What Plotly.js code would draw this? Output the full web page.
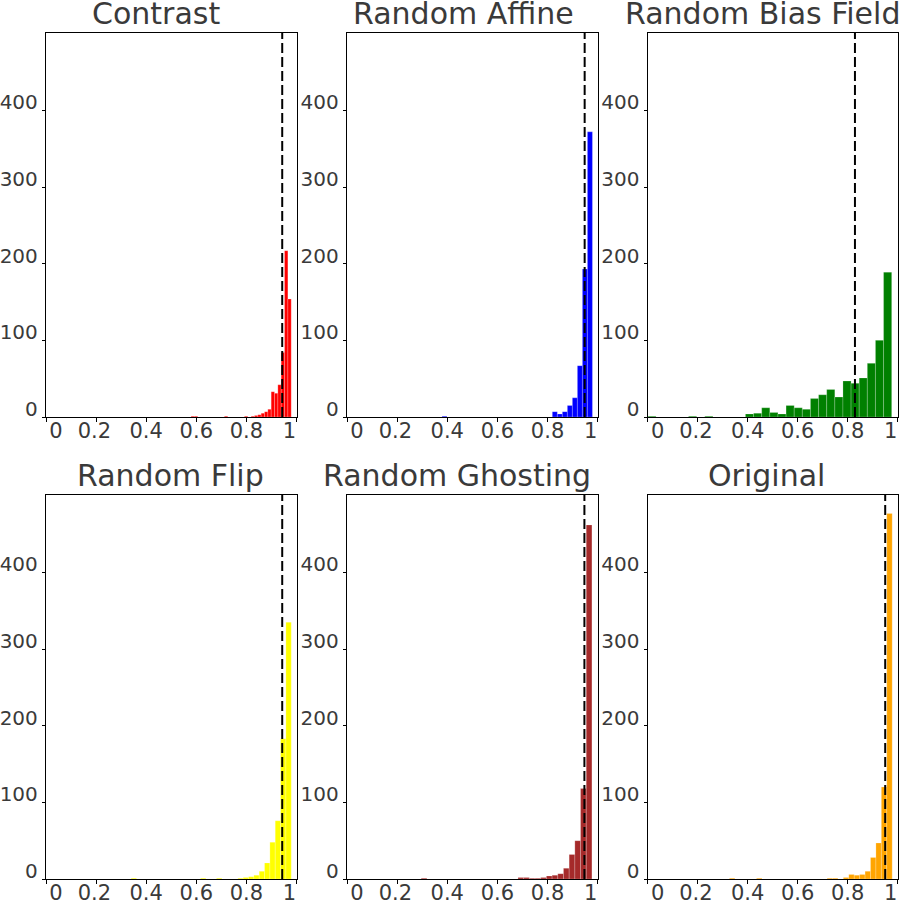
<!DOCTYPE html>
<html>
<head>
<meta charset="utf-8">
<script src="https://cdn.plot.ly/plotly-3.0.1.min.js"></script>
<style>
  html, body { margin: 0; padding: 0; background: #fff; }
  #chart { width: 908px; height: 903px; }
</style>
</head>
<body>
<div id="chart"></div>
<script>
// Panel titles and bar colours
const titles = ['Contrast', 'Random Affine', 'Random Bias Field', 'Random Flip', 'Random Ghosting', 'Original'];
const colors = ['#ff0000', '#0000ff', '#008000', '#ffff00', '#a52a2a', '#ffa500'];

// Histogram bins (30 per panel): left edge of first bin and bin width
const binLo = [0.579, 0.379, 0.001, 0.340, 0.296, 0.327];
const binWidth = [0.01333, 0.020, 0.0325, 0.0213, 0.0227, 0.0217];

// Mean score of each panel (dashed line)
const meanScore = [0.943, 0.948, 0.829, 0.943, 0.947, 0.950];

// Counts per bin
const contrastCounts = [1,1,0,0,0,0,0,0,0,0,1,0,0,0,0,0,1,0,1,2,3,5,7,10,33,31,42,84,217,154];
const affineCounts   = [1,0,0,0,0,0,0,0,0,0,0,0,0,0,0,0,0,0,0,0,0,0,7,4,7,15,25,67,193,372];
const biasCounts     = [1,0,0,0,0,1,0,1,0,0,0,0,4,5,12,6,4,15,12,10,24,29,36,26,47,44,51,70,100,189];
const flipCounts     = [1,0,0,0,0,0,0,0,0,0,0,0,0,1,0,0,1,0,0,0,1,2,3,5,10,21,48,76,183,335];
const ghostCounts    = [1,0,0,0,0,0,0,0,0,0,0,0,0,0,0,0,0,2,2,1,1,2,4,5,7,14,32,50,118,462];
const originalCounts = [1,0,0,0,0,1,0,0,0,0,0,0,0,0,0,0,0,0,1,1,0,2,6,5,6,10,28,47,120,477];
const counts = [contrastCounts, affineCounts, biasCounts, flipCounts, ghostCounts, originalCounts];

// Axis ticks
const xTickVals = [0, 0.2, 0.4, 0.6, 0.8, 1];
const xTickText = ['0', '0.2', '0.4', '0.6', '0.8', '1'];
const yTickVals = [0, 100, 200, 300, 400];

// Where the x tick labels sit (end labels are pulled inward)
const xLabelPos = [0.04, 0.193, 0.4, 0.6, 0.8, 0.972];

// Panel placement in pixels
const W = 908, H = 903;
const colLeft = [46, 347, 647.7];
const colRight = [296.5, 597.7, 897.7];
const rowTop = [33, 495];
const rowBottom = [417, 879];
const titleCenter = [156, 463, 762, 170, 457, 766];

const textColor = '#3a3a3a';
const traces = [];
const layout = {
    width: W,
    height: H,
    margin: { t: 0, r: 0, b: 0, l: 0 },
    paper_bgcolor: '#fff',
    plot_bgcolor: '#fff',
    showlegend: false,
    font: { family: 'DejaVu Sans', color: textColor },
    shapes: [],
    annotations: []
};

for (let i = 0; i < 6; i++) {
    const n = i + 1;
    const sfx = n === 1 ? '' : String(n);
    const col = i % 3;
    const row = Math.floor(i / 3);
    const xd = [colLeft[col] / W, colRight[col] / W];
    const yd = [1 - rowBottom[row] / H, 1 - rowTop[row] / H];

    // Histogram bars
    traces.push({
        type: 'bar',
        x0: binLo[i],
        dx: binWidth[i],
        y: counts[i],
        width: binWidth[i],
        offset: 0,
        xaxis: 'x' + sfx,
        yaxis: 'y' + sfx,
        marker: { color: colors[i], line: { color: 'rgba(255,255,255,0.35)', width: 0.6 } },
        hoverinfo: 'y'
    });

    // Empty trace so the label axis gets drawn
    traces.push({
        type: 'scatter',
        x: [null],
        y: [null],
        xaxis: 'x' + (n + 6),
        yaxis: 'y' + sfx,
        hoverinfo: 'skip'
    });

    layout['xaxis' + sfx] = {
        domain: xd,
        anchor: 'y' + sfx,
        range: [0, 1],
        tickvals: xTickVals,
        showticklabels: false,
        ticks: 'outside',
        ticklen: 4,
        tickwidth: 1,
        tickcolor: '#000',
        showline: true,
        linewidth: 1.2,
        linecolor: '#000',
        mirror: true,
        showgrid: false,
        zeroline: false
    };

    layout['xaxis' + (n + 6)] = {
        overlaying: 'x' + sfx,
        anchor: 'y' + sfx,
        range: [0, 1],
        tickvals: xLabelPos,
        ticktext: xTickText,
        ticks: '',
        ticklabelstandoff: -1,
        tickfont: { size: 21, color: textColor },
        showline: false,
        showgrid: false,
        zeroline: false
    };

    layout['yaxis' + sfx] = {
        domain: yd,
        anchor: 'x' + sfx,
        range: [0, 501],
        tickvals: yTickVals,
        ticks: 'outside',
        ticklen: 3,
        tickwidth: 1,
        tickcolor: '#000',
        ticklabelshift: -8,
        ticklabelstandoff: 0,
        tickfont: { size: 20, color: textColor },
        showline: true,
        linewidth: 1.2,
        linecolor: '#000',
        mirror: true,
        showgrid: false,
        zeroline: false
    };

    // Dashed mean line
    layout.shapes.push({
        type: 'line',
        xref: 'x' + sfx,
        yref: 'y' + sfx + ' domain',
        x0: meanScore[i],
        x1: meanScore[i],
        y0: 0,
        y1: 1,
        layer: 'above',
        line: { color: '#000', width: 2, dash: '10px,4px' }
    });

    // Panel title
    layout.annotations.push({
        text: titles[i],
        xref: 'paper',
        yref: 'paper',
        x: titleCenter[i] / W,
        y: yd[1],
        xanchor: 'center',
        yanchor: 'bottom',
        showarrow: false,
        font: { size: 30, color: textColor }
    });
}

Plotly.newPlot('chart', traces, layout, { staticPlot: true });
</script>
</body>
</html>
